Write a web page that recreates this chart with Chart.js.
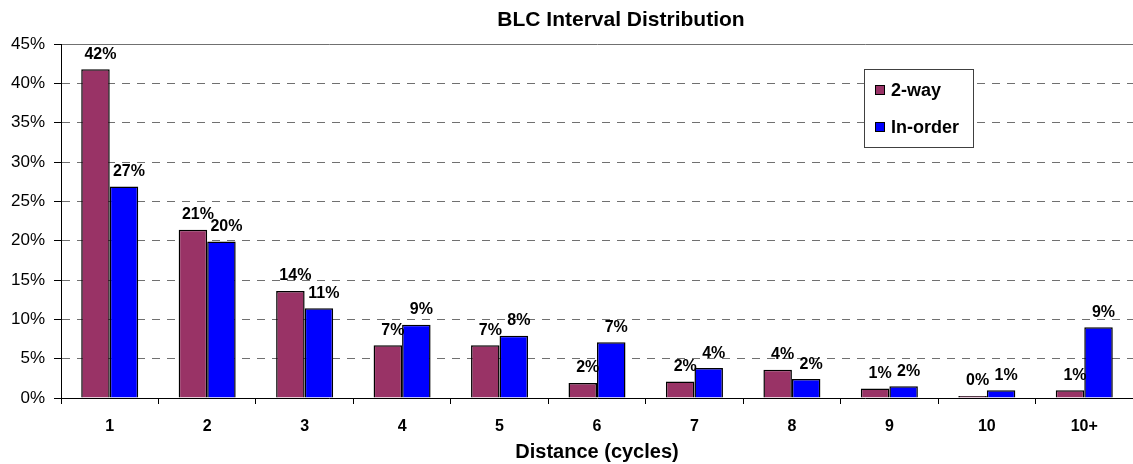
<!DOCTYPE html>
<html>
<head>
<meta charset="utf-8">
<script src="https://cdn.jsdelivr.net/npm/chart.js@4.4.1/dist/chart.umd.min.js"></script>
<style>
  html, body { margin: 0; padding: 0; background: #fff; }
  #wrap { width: 1133px; height: 464px; }
</style>
</head>
<body>
<div id="wrap"><canvas id="grafico" width="1133" height="464"></canvas></div>
<script>
// datos
const categorias = ['1', '2', '3', '4', '5', '6', '7', '8', '9', '10', '10+'];
const dosVias = [41.8, 21.4, 13.6, 6.7, 6.7, 1.9, 2.1, 3.6, 1.2, 0.25, 1.0];
const enOrden = [26.9, 19.9, 11.4, 9.3, 7.9, 7.1, 3.8, 2.4, 1.5, 1.0, 9.0];
const ticksY = [0, 5, 10, 15, 20, 25, 30, 35, 40, 45];

const FUENTE = '"Liberation Sans", Arial, sans-serif';

// título, etiquetas de valor y leyenda dibujados a mano
const extras = {
  id: 'extras',
  afterDatasetsDraw(chart) {
    const ctx = chart.ctx;
    ctx.save();
    ctx.fillStyle = '#000';
    ctx.font = 'bold 16px ' + FUENTE;
    ctx.textAlign = 'center';
    ctx.textBaseline = 'bottom';
    chart.data.datasets.forEach((ds, i) => {
      const meta = chart.getDatasetMeta(i);
      meta.data.forEach((bar, j) => {
        ctx.fillText(Math.round(ds.data[j]) + '%', bar.x + 5, bar.y - 7);
      });
    });
    ctx.restore();
  },
  afterDraw(chart) {
    const ctx = chart.ctx;
    ctx.save();
    // título
    ctx.fillStyle = '#000';
    ctx.font = 'bold 21px ' + FUENTE;
    ctx.textAlign = 'center';
    ctx.textBaseline = 'middle';
    ctx.fillText('BLC Interval Distribution', 621, 20);

    // leyenda
    const lx = 864, ly = 69, lw = 109, lh = 78;
    ctx.fillStyle = '#fff';
    ctx.fillRect(lx, ly, lw, lh);
    ctx.strokeStyle = '#404040';
    ctx.lineWidth = 1;
    ctx.strokeRect(lx + 0.5, ly + 0.5, lw, lh);
    ctx.font = 'bold 18px ' + FUENTE;
    ctx.textAlign = 'left';
    chart.data.datasets.forEach((ds, i) => {
      const cy = ly + 21 + i * 37;
      ctx.fillStyle = ds.backgroundColor;
      ctx.fillRect(lx + 11, cy - 5, 10, 10);
      ctx.strokeStyle = '#000';
      ctx.strokeRect(lx + 11.5, cy - 4.5, 9, 9);
      ctx.fillStyle = '#000';
      ctx.fillText(ds.label, lx + 27, cy + 1);
    });
    ctx.restore();
  }
};

new Chart(document.getElementById('grafico'), {
  type: 'bar',
  data: {
    labels: categorias,
    datasets: [
      { label: '2-way', data: dosVias, backgroundColor: '#993366', borderColor: '#000', borderWidth: 1.5,
        barPercentage: 1, categoryPercentage: 0.585 },
      { label: 'In-order', data: enOrden, backgroundColor: '#0000FF', borderColor: '#000', borderWidth: 1.5,
        barPercentage: 1, categoryPercentage: 0.585 }
    ]
  },
  options: {
    responsive: false,
    animation: false,
    layout: { padding: { top: 44, right: 0, left: 0, bottom: 0 } },
    plugins: {
      legend: { display: false },
      title: { display: false },
      tooltip: { enabled: false }
    },
    scales: {
      x: {
        afterFit(scale) { scale.height = 66; },
        grid: { drawOnChartArea: false, tickLength: 6, tickColor: '#000', offset: true },
        border: { color: '#000', width: 1 },
        ticks: { color: '#000', font: { family: FUENTE, size: 16, weight: 'bold' }, padding: 13 },
        title: { display: true, text: 'Distance (cycles)', color: '#000',
          font: { family: FUENTE, size: 20, weight: 'bold' }, padding: { top: 6, bottom: 0 } }
      },
      y: {
        min: 0,
        max: 45,
        afterFit(scale) { scale.width = 61; },
        afterBuildTicks(scale) { scale.ticks = ticksY.map(v => ({ value: v })); },
        grid: { color: '#707070', tickLength: 7, tickColor: '#000' },
        border: {
          color: '#000', width: 1,
          dash: c => (c.tick && c.tick.value === 45 ? [] : [8, 7])
        },
        ticks: { color: '#000', font: { family: FUENTE, size: 17 }, padding: 9,
          callback: v => v + '%' }
      }
    }
  },
  plugins: [extras]
});
</script>
</body>
</html>
